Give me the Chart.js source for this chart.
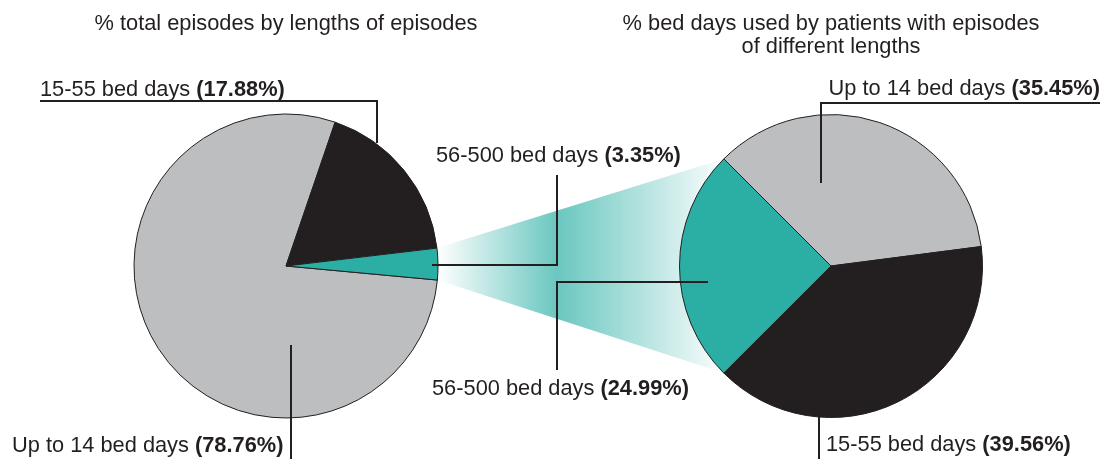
<!DOCTYPE html>
<html><head><meta charset="utf-8">
<script src="https://cdn.jsdelivr.net/npm/chart.js@4"></script>
<style>
html,body{margin:0;padding:0;background:#fff;width:1110px;height:459px;overflow:hidden}
#wrap{position:relative;width:1110px;height:459px}
canvas{position:absolute;left:0;top:0}
</style></head>
<body><div id="wrap"><canvas id="cl" width="1110" height="459"></canvas><canvas id="cr" width="1110" height="459"></canvas></div>
<script>
// ---- data ----
const categories = ['Up to 14 bed days', '15-55 bed days', '56-500 bed days'];
const episodeShare = [78.76, 17.88, 3.35];      // % total episodes
const bedDayShare = [35.45, 39.56, 24.99];      // % bed days
const titleLeft = ['% total episodes by lengths of episodes'];
const titleRight = ['% bed days used by patients with episodes', 'of different lengths'];

// ---- style ----
const COLORS = ['#bcbec0', '#231f20', '#2bafa5'];
const INK = '#231f20';
const FF = '"Liberation Sans", Arial, Helvetica, sans-serif';
const FS = 21.8;

function pieConfig(data, rotation, padding, plugins) {
  return {
    type: 'pie',
    data: { labels: categories, datasets: [{ data: data, backgroundColor: COLORS, borderColor: INK, borderWidth: 1 }] },
    options: {
      responsive: false, devicePixelRatio: 1, animation: false,
      rotation: rotation,
      layout: { padding: padding },
      plugins: { legend: { display: false }, tooltip: { enabled: false }, title: { display: false } }
    },
    plugins: plugins || []
  };
}

const leftChart = new Chart(document.getElementById('cl'),
  pieConfig(episodeShare, 95.3, { left: 133.5, right: 671.5, top: 113.5, bottom: 40.5 }));

function pt(arc, ang) { return { x: arc.x + arc.outerRadius * Math.cos(ang), y: arc.y + arc.outerRadius * Math.sin(ang) }; }

function label(ctx, x, y, reg, bold, align) {
  ctx.font = FS + 'px ' + FF;
  const w1 = ctx.measureText(reg).width;
  ctx.font = 'bold ' + FS + 'px ' + FF;
  const w2 = ctx.measureText(bold).width;
  const sx = align === 'right' ? x - w1 - w2 : x;
  ctx.textAlign = 'left'; ctx.textBaseline = 'alphabetic'; ctx.fillStyle = INK;
  ctx.font = FS + 'px ' + FF; ctx.fillText(reg, sx, y);
  ctx.font = 'bold ' + FS + 'px ' + FF; ctx.fillText(bold, sx + w1, y);
}
function line(ctx, pts) {
  ctx.beginPath(); ctx.moveTo(pts[0][0], pts[0][1]);
  for (let i = 1; i < pts.length; i++) ctx.lineTo(pts[i][0], pts[i][1]);
  ctx.stroke();
}
const pct = v => '(' + v.toFixed(2) + '%)';

const overlay = {
  id: 'overlay',
  beforeDatasetsDraw(chart) {
    const ctx = chart.ctx;
    const a = leftChart.getDatasetMeta(0).data[2];
    const b = chart.getDatasetMeta(0).data[2];
    const p1 = pt(a, a.startAngle), p2 = pt(a, a.endAngle);
    const q1 = pt(b, b.endAngle), q2 = pt(b, b.startAngle);
    const g = ctx.createLinearGradient(p1.x, 0, q1.x - 8, 0);
    g.addColorStop(0, 'rgba(43,175,165,0)');
    g.addColorStop(0.43, 'rgba(43,175,165,0.7)');
    g.addColorStop(1, 'rgba(43,175,165,0.05)');
    ctx.save();
    ctx.beginPath();
    ctx.moveTo(p1.x, p1.y); ctx.lineTo(q1.x, q1.y); ctx.lineTo(q2.x, q2.y); ctx.lineTo(p2.x, p2.y);
    ctx.arc(a.x, a.y, a.outerRadius, a.endAngle, a.startAngle, true);
    ctx.closePath();
    ctx.fillStyle = g; ctx.fill();
    ctx.restore();
  },
  afterDraw(chart) {
    const ctx = chart.ctx;
    const L = leftChart.getDatasetMeta(0).data[0], R = chart.getDatasetMeta(0).data[0];
    const lx = L.x, ly = L.y, rx = R.x, ry = R.y;
    ctx.save();
    // titles
    ctx.fillStyle = INK; ctx.textAlign = 'center'; ctx.textBaseline = 'alphabetic';
    ctx.font = FS + 'px ' + FF;
    titleLeft.forEach((t, i) => ctx.fillText(t, lx, 29.5 + i * 23.5));
    titleRight.forEach((t, i) => ctx.fillText(t, rx, 29.5 + i * 23.5));
    // leader lines
    ctx.strokeStyle = INK; ctx.lineWidth = 2; ctx.lineCap = 'butt'; ctx.lineJoin = 'miter';
    line(ctx, [[lx - 246, ly - 165], [lx + 91, ly - 165], [lx + 91, ly - 123]]);
    line(ctx, [[lx + 5, ly + 79], [lx + 5, 459]]);
    line(ctx, [[lx + 146, ly - 1], [lx + 271, ly - 1], [lx + 271, ly - 91]]);
    line(ctx, [[rx - 123, ry + 16], [lx + 271, ry + 16], [lx + 271, ry + 104]]);
    line(ctx, [[rx - 10, ry - 83], [rx - 10, ry - 163], [1100, ry - 163]]);
    line(ctx, [[rx - 12, ry + 144], [rx - 12, 459]]);
    // labels
    label(ctx, lx - 246, ly - 170, categories[1] + ' ', pct(episodeShare[1]), 'left');
    label(ctx, lx - 274, ly + 186, categories[0] + ' ', pct(episodeShare[0]), 'left');
    label(ctx, lx + 150, ly - 104, categories[2] + ' ', pct(episodeShare[2]), 'left');
    label(ctx, lx + 146, ry + 129, categories[2] + ' ', pct(bedDayShare[2]), 'left');
    label(ctx, 1100, ry - 171, categories[0] + ' ', pct(bedDayShare[0]), 'right');
    label(ctx, rx - 5, ry + 185, categories[1] + ' ', pct(bedDayShare[1]), 'left');
    ctx.restore();
  }
};

const rightChart = new Chart(document.getElementById('cr'),
  pieConfig(bedDayShare, -45, { left: 679, right: 127, top: 114, bottom: 41 }, [overlay]));
</script>
</body></html>
